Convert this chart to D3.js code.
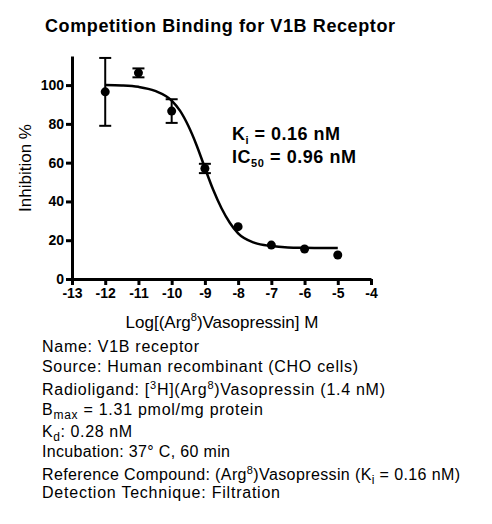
<!DOCTYPE html>
<html>
<head>
  <meta charset="UTF-8" />
  <title>Competition Binding for V1B Receptor</title>
  <script src="https://cdn.jsdelivr.net/npm/d3@7"></script>
  <style>
    body { margin: 0; background: #fff; }
    svg { font-family: 'Liberation Sans', Arial, sans-serif; }
    .axis path, .axis line { stroke: #000; stroke-width: 3; }
    .axis text { font-size: 14px; font-weight: bold; fill: #000; }
  </style>
</head>
<body>
<svg width="492" height="524"></svg>
<script>
  // data
  const logConc = [-12, -11, -10, -9, -8, -7, -6, -5];
  const inhibition = [96.5, 106.3, 86.6, 57.0, 27.0, 17.5, 15.5, 12.4];
  const sem = [17.5, 2.3, 6.1, 2.4, 0, 0, 0, 0];

  // fitted curve
  const fitX = [-12, -11.5, -11, -10.5, -10, -9.75, -9.5, -9.25, -9, -8.75, -8.5, -8.25, -8, -7.5, -7, -6.5, -6, -5.5, -5];
  const fitY = [100, 99.8, 99.1, 97, 92, 86.8, 79, 69, 57.3, 46, 36.5, 29, 23.5, 18.6, 17, 16.3, 16.1, 16, 16];

  const xTicks = [-13, -12, -11, -10, -9, -8, -7, -6, -5, -4];
  const yTicks = [0, 20, 40, 60, 80, 100];

  const svg = d3.select('svg');

  const x = d3.scaleLinear().domain([-13, -4]).range([72, 371]);
  const y = d3.scaleLinear().domain([0, 115]).range([279, 56]);

  // title
  svg.append('text')
    .attr('x', 45).attr('y', 32)
    .attr('textLength', 350).attr('lengthAdjust', 'spacing')
    .style('font-size', '18px').style('font-weight', 'bold')
    .text('Competition Binding for V1B Receptor');

  // axes
  svg.append('g')
    .attr('class', 'axis')
    .attr('transform', 'translate(0,279)')
    .call(d3.axisBottom(x).tickValues(xTicks).tickFormat(d => String(d))
      .tickSize(6).tickSizeOuter(0).tickPadding(3));

  svg.append('g')
    .attr('class', 'axis')
    .attr('transform', 'translate(72,0)')
    .call(d3.axisLeft(y).tickValues(yTicks).tickFormat(d => String(d))
      .tickSize(6).tickSizeOuter(0).tickPadding(2));

  // axis titles
  const xl = svg.append('text')
    .attr('x', 222).attr('y', 328)
    .attr('text-anchor', 'middle')
    .style('font-size', '17px');
  xl.append('tspan').text('Log[(Arg');
  xl.append('tspan').attr('dy', -7).style('font-size', '11px').text('8');
  xl.append('tspan').attr('dy', 7).text(')Vasopressin] M');

  svg.append('text')
    .attr('transform', 'translate(31,168) rotate(-90)')
    .attr('text-anchor', 'middle')
    .style('font-size', '17px')
    .text('Inhibition %');

  // fitted curve
  const line = d3.line()
    .x((d, i) => x(fitX[i]))
    .y(d => y(d))
    .curve(d3.curveMonotoneX);

  svg.append('path')
    .datum(fitY)
    .attr('d', line)
    .attr('fill', 'none')
    .attr('stroke', '#000')
    .attr('stroke-width', 2.5);

  // error bars
  const bars = svg.append('g').attr('stroke', '#000').attr('stroke-width', 2);
  logConc.forEach((c, i) => {
    if (!sem[i]) return;
    const cx = x(c);
    const y0 = y(inhibition[i] - sem[i]);
    const y1 = y(inhibition[i] + sem[i]);
    bars.append('line').attr('x1', cx).attr('x2', cx).attr('y1', y0).attr('y2', y1);
    bars.append('line').attr('x1', cx - 6).attr('x2', cx + 6).attr('y1', y0).attr('y2', y0);
    bars.append('line').attr('x1', cx - 6).attr('x2', cx + 6).attr('y1', y1).attr('y2', y1);
  });

  // points
  svg.append('g')
    .selectAll('circle')
    .data(logConc)
    .join('circle')
    .attr('cx', d => x(d))
    .attr('cy', (d, i) => y(inhibition[i]))
    .attr('r', 4.5)
    .attr('fill', '#000');

  // Ki / IC50 annotation
  const ann = svg.append('g')
    .style('font-size', '18px').style('font-weight', 'bold');
  const a1 = ann.append('text').attr('x', 232).attr('y', 140)
    .attr('textLength', 108).attr('lengthAdjust', 'spacing');
  a1.append('tspan').text('K');
  a1.append('tspan').attr('dy', 4).style('font-size', '11px').text('i');
  a1.append('tspan').attr('dy', -4).text(' = 0.16 nM');
  const a2 = ann.append('text').attr('x', 232).attr('y', 163)
    .attr('textLength', 124).attr('lengthAdjust', 'spacing');
  a2.append('tspan').text('IC');
  a2.append('tspan').attr('dy', 4).style('font-size', '11px').text('50');
  a2.append('tspan').attr('dy', -4).text(' = 0.96 nM');

  // info block
  const info = svg.append('g').style('font-size', '16px');
  const addLine = (yy, len, parts) => {
    const t = info.append('text').attr('x', 42).attr('y', yy)
      .attr('textLength', len).attr('lengthAdjust', 'spacing');
    parts.forEach(p => {
      const s = t.append('tspan').text(p[0]);
      if (p[1] === 'sup') s.attr('dy', -6).style('font-size', '11px');
      if (p[1] === 'sub') s.attr('dy', 4).style('font-size', '12px');
      if (p[2]) s.attr('dy', p[2]);
    });
  };
  addLine(352, 157, [['Name: V1B receptor']]);
  addLine(372, 316, [['Source: Human recombinant (CHO cells)']]);
  addLine(395, 343, [['Radioligand: ['], ['3', 'sup'], ['H](Arg', null, 6], ['8', 'sup'], [')Vasopressin (1.4 nM)', null, 6]]);
  addLine(415, 221, [['B'], ['max', 'sub'], [' = 1.31 pmol/mg protein', null, -4]]);
  addLine(437, 90, [['K'], ['d', 'sub'], [': 0.28 nM', null, -4]]);
  addLine(457, 188, [['Incubation: 37\u00b0  C, 60 min']]);
  addLine(480, 418, [['Reference Compound: (Arg'], ['8', 'sup'], [')Vasopressin (K', null, 6], ['i', 'sub'], [' = 0.16 nM)', null, -4]]);
  addLine(498, 238, [['Detection Technique: Filtration']]);
</script>
</body>
</html>
